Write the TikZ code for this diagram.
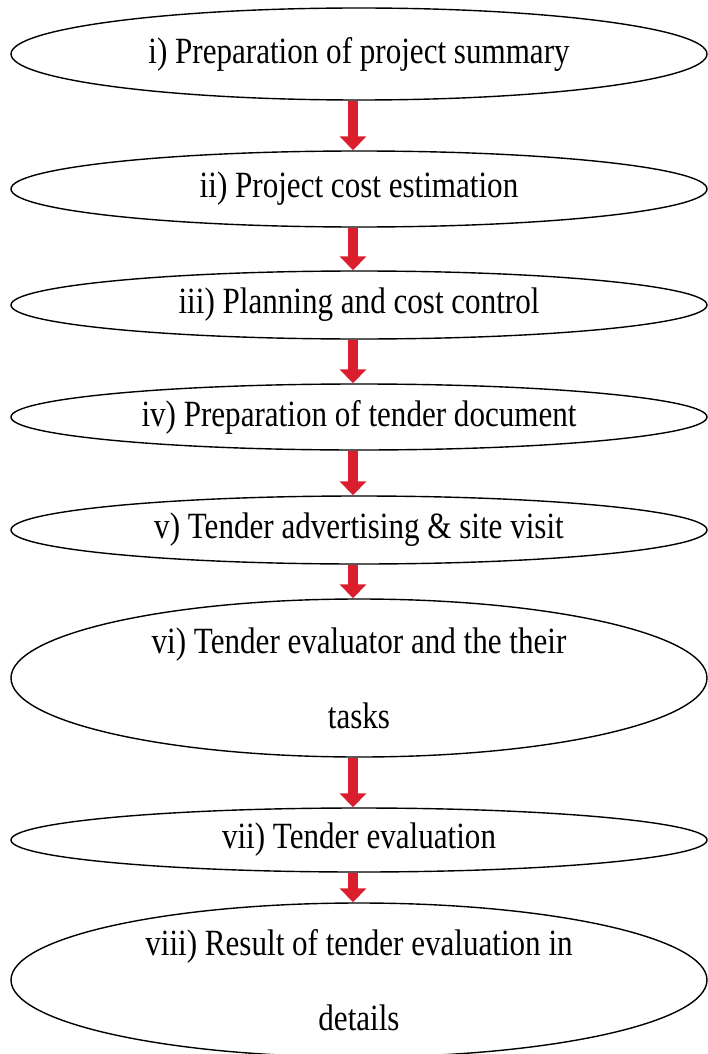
\documentclass[tikz,border=0pt]{standalone}
\usepackage{fontspec}
\setmainfont{Liberation Serif}[FakeStretch=0.84]
\usetikzlibrary{shapes.geometric,arrows.meta}
\definecolor{arrowred}{RGB}{218,30,45}
\begin{document}
\begin{tikzpicture}
            [
                x = 1pt, y = -1pt,
                stage/.style = {draw, ellipse, line width=1.4pt, inner sep=0pt,
                    minimum width=696pt, align=center,
                    font=\fontsize{37}{75}\selectfont},
                flow/.style = {draw=arrowred, line width=10pt,
                    -{Triangle[width=26pt, length=14pt]}, arrowred}
            ]
            \useasboundingbox (0, 0) rectangle (708, 1054);
            \node[stage, minimum height=92pt] (summary) at (359, 54) {i) Preparation of project summary};
            \node[stage, minimum height=76pt] (estimate) at (359, 189) {ii) Project cost estimation};
            \node[stage, minimum height=68pt] (control) at (359, 305) {iii) Planning and cost control};
            \node[stage, minimum height=66pt] (document) at (359, 417) {iv) Preparation of tender document};
            \node[stage, minimum height=68pt] (advert) at (359, 530) {v) Tender advertising \& site visit};
            \node[stage, minimum height=158pt] (evaluator) at (359, 678) {vi) Tender evaluator and the their\\tasks};
            \node[stage, minimum height=64pt] (evaluation) at (359, 840) {vii) Tender evaluation};
            \node[stage, minimum height=154pt] (result) at (359, 980) {viii) Result of tender evaluation in\\details};
            \draw[flow] ([xshift=-6pt]summary.south) -- ([xshift=-6pt]estimate.north);
            \draw[flow] ([xshift=-6pt]estimate.south) -- ([xshift=-6pt]control.north);
            \draw[flow] ([xshift=-6pt]control.south) -- ([xshift=-6pt]document.north);
            \draw[flow] ([xshift=-6pt]document.south) -- ([xshift=-6pt]advert.north);
            \draw[flow] ([xshift=-6pt]advert.south) -- ([xshift=-6pt]evaluator.north);
            \draw[flow] ([xshift=-6pt]evaluator.south) -- ([xshift=-6pt]evaluation.north);
            \draw[flow] ([xshift=-6pt]evaluation.south) -- ([xshift=-6pt]result.north);
        \end{tikzpicture}
\end{document}
